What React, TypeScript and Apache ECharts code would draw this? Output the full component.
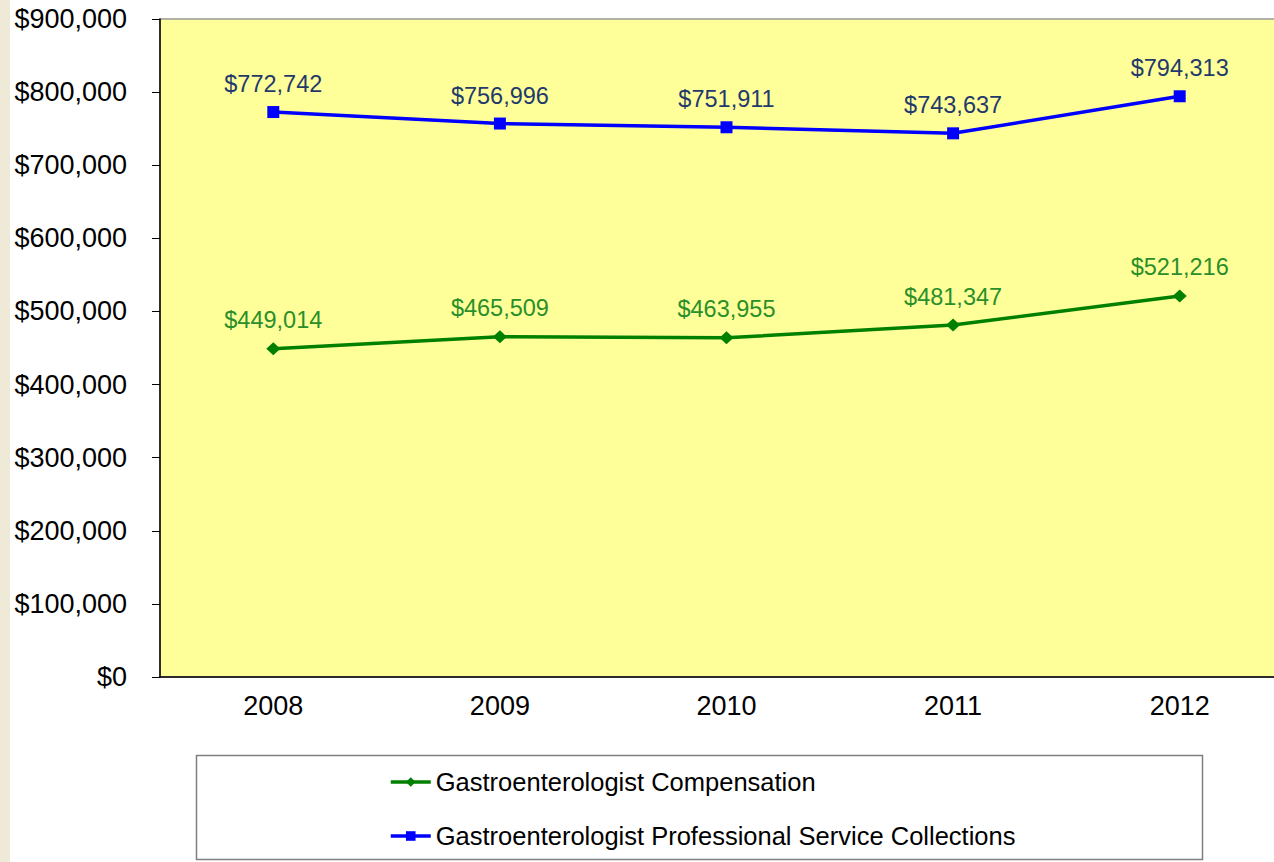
import React, { useEffect, useRef } from "react";
import * as echarts from "echarts";

const years = ["2008", "2009", "2010", "2011", "2012"];
const compensation = [449014, 465509, 463955, 481347, 521216];
const collections = [772742, 756996, 751911, 743637, 794313];
const seriesNames = [
  "Gastroenterologist Compensation",
  "Gastroenterologist Professional Service Collections",
];

const FONT = "Liberation Sans, Arial, sans-serif";

const fmt = (v: number) => "$" + v.toLocaleString("en-US");

export default function App() {
  const ref = useRef<HTMLDivElement>(null);

  useEffect(() => {
    if (!ref.current) return;
    const chart = echarts.init(ref.current, null, { renderer: "svg" });
    chart.setOption({
      animation: false,
      backgroundColor: "#ffffff",
      textStyle: { fontFamily: FONT },
      graphic: [
        { type: "rect", shape: { x: 0, y: 0, width: 10, height: 862 }, style: { fill: "#EFE9D8" }, silent: true },
        {
          type: "rect",
          shape: { x: 196.5, y: 755.5, width: 1006, height: 104 },
          style: { fill: "#ffffff", stroke: "#7f7f7f", lineWidth: 1.5 },
          silent: true,
          z: -1,
        },
      ],
      grid: {
        left: 160,
        top: 19,
        height: 658,
        width: 1133,
        outerBoundsMode: "none",
        containLabel: false,
        show: true,
        backgroundColor: "#FFFF99",
        borderColor: "#999999",
        borderWidth: 1.5,
      },
      legend: {
        orient: "vertical",
        left: 384,
        top: 764,
        itemWidth: 40,
        itemHeight: 12,
        itemGap: 28,
        lineStyle: { width: 3.5 },
        textStyle: { fontSize: 25.5, color: "#000000", fontFamily: FONT },
        data: seriesNames,
      },
      xAxis: {
        type: "category",
        data: years,
        boundaryGap: true,
        axisLine: { lineStyle: { color: "#000000", width: 1.5 } },
        axisTick: { length: 8, lineStyle: { color: "#000000" }, alignWithLabel: false },
        axisLabel: { fontSize: 27, color: "#000000", margin: 15, fontFamily: FONT },
      },
      yAxis: {
        type: "value",
        min: 0,
        max: 900000,
        interval: 100000,
        axisLine: { show: true, lineStyle: { color: "#000000", width: 1.5 } },
        axisTick: { show: true, length: 8, lineStyle: { color: "#000000" } },
        splitLine: { show: false },
        axisLabel: {
          fontSize: 27,
          color: "#000000",
          margin: 33,
          fontFamily: FONT,
          formatter: (v: number) => fmt(v),
        },
      },
      series: [
        {
          name: seriesNames[0],
          type: "line",
          data: compensation,
          symbol: "diamond",
          symbolSize: [14, 13],
          itemStyle: { color: "#008000" },
          lineStyle: { color: "#008000", width: 3.5 },
          label: {
            show: true,
            position: "top",
            distance: 10,
            fontSize: 23.5,
            color: "#2A8F2A",
            fontFamily: FONT,
            formatter: (p: any) => fmt(p.value),
          },
        },
        {
          name: seriesNames[1],
          type: "line",
          data: collections,
          symbol: "rect",
          symbolSize: 12,
          itemStyle: { color: "#0000FF" },
          lineStyle: { color: "#0000FF", width: 3.5 },
          label: {
            show: true,
            position: "top",
            distance: 10,
            fontSize: 23.5,
            color: "#1F3A6B",
            fontFamily: FONT,
            formatter: (p: any) => fmt(p.value),
          },
        },
      ],
    });
    return () => chart.dispose();
  }, []);

  return (
    <div
      ref={ref}
      style={{ position: "absolute", left: 0, top: 0, width: 1274, height: 862 }}
    />
  );
}
